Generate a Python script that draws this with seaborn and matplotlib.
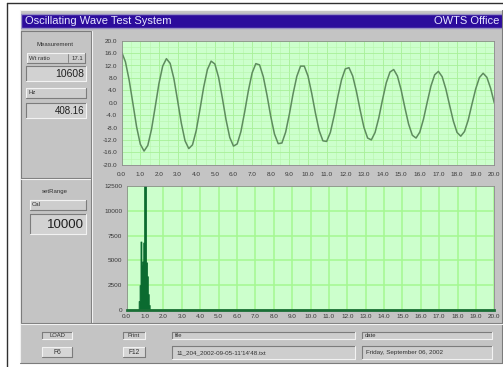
import numpy as np
import pandas as pd
import matplotlib
matplotlib.use("Agg")
import matplotlib.pyplot as plt
from matplotlib.patches import Rectangle
import seaborn as sns

# ---------------- data ----------------
wave_t = np.linspace(0.0, 20.0, 101)
wave_y = [16.3, 13.2, 7.3, -0.2, -7.8, -13.4, -15.6, -13.8, -8.6, -1.3,
          6.2, 11.8, 14.2, 12.7, 7.8, 0.7, -6.6, -12.3, -14.8, -13.6,
          -9.0, -2.2, 5.0, 10.7, 13.4, 12.5, 8.2, 1.6, -5.5, -11.2,
          -14.0, -13.3, -9.3, -3.0, 3.9, 9.6, 12.6, 12.2, 8.4, 2.4,
          -4.4, -10.1, -13.2, -13.0, -9.5, -3.7, 2.9, 8.5, 11.8, 11.8,
          8.6, 3.0, -3.4, -9.0, -12.3, -12.5, -9.6, -4.3, 1.9, 7.4,
          10.9, 11.3, 8.6, 3.6, -2.4, -7.9, -11.4, -12.0, -9.6, -4.9,
          1.0, 6.4, 9.9, 10.7, 8.6, 4.1, -1.6, -6.9, -10.5, -11.4,
          -9.5, -5.3, 0.2, 5.4, 9.0, 10.1, 8.4, 4.4, -0.8, -5.9,
          -9.6, -10.8, -9.3, -5.6, -0.5, 4.4, 8.1, 9.5, 8.2, 4.7, -0.1]

spec_x = [0.675, 0.725, 0.775, 0.825, 0.875, 0.925, 0.975, 1.025, 1.075, 1.125, 1.175, 1.225]
spec_y = [900, 2500, 6900, 4500, 4900, 6800, 13500, 13500, 4800, 3400, 1600, 500]

x_ticks = [i * 1.0 for i in range(21)]
x_labels = ["%.1f" % v for v in x_ticks]
top_yticks = [20, 16, 12, 8, 4, 0, -4, -8, -12, -16, -20]
top_ylabels = ["%.1f" % v for v in top_yticks]
bot_yticks = [0, 2500, 5000, 7500, 10000, 12500]
bot_ylabels = ["0", "2500", "5000", "7500", "10000", "12500"]

title_left = "Oscillating Wave Test System"
title_right = "OWTS Office"
meas_title = "Measurement"
ratio_label, ratio_value = "Wt ratio", "17.1"
count_value = "10608"
freq_label, freq_value = "Hz", "408.16"
range_title = "setRange"
cal_label, cal_value = "Cal", "10000"
load_label, load_key = "LOAD", "F6"
print_label, print_key = "Print", "F12"
file_label, file_value = "file", "11_204_2002-09-05-11'14'48.txt"
date_label, date_value = "date", "Friday, September 06, 2002"

# ---------------- style ----------------
sns.set_style("white")
plt.rcParams['font.family'] = ['Liberation Sans', 'DejaVu Sans']

W, H = 503, 367
fig = plt.figure(figsize=(W / 100, H / 100), dpi=100)
fig.patch.set_facecolor("white")

bg = fig.add_axes([0, 0, 1, 1])
bg.set_xlim(0, W)
bg.set_ylim(H, 0)
bg.axis("off")

GRAY = "#c4c4c4"
DARK = "#7c7c7c"
LIGHT = "#f2f2f2"


def box(x0, y0, x1, y1, face=None, sunken=True, lw=0.8):
    if face is not None:
        bg.add_patch(Rectangle((x0, y0), x1 - x0, y1 - y0, facecolor=face,
                               edgecolor="none", zorder=2))
    c1, c2 = (DARK, LIGHT) if sunken else (LIGHT, DARK)
    bg.plot([x0, x1], [y0, y0], color=c1, lw=lw, zorder=3)
    bg.plot([x0, x0], [y0, y1], color=c1, lw=lw, zorder=3)
    bg.plot([x0, x1], [y1, y1], color=c2, lw=lw, zorder=3)
    bg.plot([x1, x1], [y0, y1], color=c2, lw=lw, zorder=3)


def etched_h(x0, x1, y):
    bg.plot([x0, x1], [y, y], color=DARK, lw=0.8, zorder=3)
    bg.plot([x0, x1], [y + 1, y + 1], color=LIGHT, lw=0.8, zorder=3)


def etched_v(x, y0, y1):
    bg.plot([x, x], [y0, y1], color=DARK, lw=0.8, zorder=3)
    bg.plot([x + 1, x + 1], [y0, y1], color=LIGHT, lw=0.8, zorder=3)


def txt(x, y, s, size=4.5, ha="left", color="#303030", **kw):
    bg.text(x, y, s, fontsize=size, ha=ha, va="center", color=color, zorder=5, **kw)


# outer border lines
bg.plot([7.5, 7.5], [2.5, H], color="#303030", lw=1.0)
bg.plot([7.5, W], [2.5, 2.5], color="#303030", lw=1.0)

# main gray panel
bg.add_patch(Rectangle((20, 10), W - 20, 353, facecolor=GRAY, edgecolor="none", zorder=1))
box(20, 10, W - 0.5, 363, sunken=False)

# title bar
bg.add_patch(Rectangle((21, 14), W - 21, 13.5, facecolor="#2c0c9c",
                       edgecolor="#9890c4", lw=1.0, zorder=2))
txt(25, 21, title_left, size=8, color="#e6e6ff")
txt(499, 21, title_right, size=8, ha="right", color="#e6e6ff")

# left column frames
box(21, 31, 91, 323, sunken=True)
etched_h(21, 91, 178)
etched_v(91.5, 31, 323)
etched_h(21, W, 323)

# measurement group
txt(55, 44, meas_title, size=4.3, ha="center")
box(27, 53, 85, 63, face="#cdcdcd", sunken=False)
txt(29, 58, ratio_label, size=4.3)
bg.plot([68, 68], [54, 62], color=DARK, lw=0.6, zorder=3)
txt(83, 58, ratio_value, size=4.3, ha="right")
box(26, 66, 86, 81, face="#d2d2d2", sunken=True)
txt(84, 73.8, count_value, size=7.5, ha="right", color="#202020")
box(26, 88, 86, 98, face="#cdcdcd", sunken=False)
txt(29, 93, freq_label, size=4.3)
box(26, 103, 86, 118, face="#d2d2d2", sunken=True)
txt(84, 110.8, freq_value, size=7, ha="right", color="#202020")

# range group
txt(55, 191, range_title, size=4.3, ha="center")
box(30, 200, 86, 210, face="#cdcdcd", sunken=False)
txt(32, 205, cal_label, size=4.3)
box(30, 214, 86, 234, face="#d2d2d2", sunken=True)
txt(84, 224.5, cal_value, size=9.5, ha="right", color="#202020")

# bottom row
box(42, 332, 72, 339, face="#cdcdcd", sunken=True)
txt(57, 335.5, load_label, size=4.2, ha="center")
box(42, 347, 72, 357, face="#d6d6d6", sunken=False)
txt(57, 352, load_key, size=4.8, ha="center")
box(123, 332, 145, 339, face="#cdcdcd", sunken=True)
txt(134, 335.5, print_label, size=4.2, ha="center")
box(123, 347, 145, 357, face="#d6d6d6", sunken=False)
txt(134, 352, print_key, size=4.8, ha="center")
box(172, 332, 355, 339, face="#cdcdcd", sunken=True)
txt(175, 335.5, file_label, size=4.2)
box(172, 346, 355, 359, face="#cecece", sunken=True)
txt(176, 352.5, file_value, size=4.5)
box(362, 332, 492, 339, face="#cdcdcd", sunken=True)
txt(365, 335.5, date_label, size=4.2)
box(362, 346, 492, 359, face="#cecece", sunken=True)
txt(366, 352.5, date_value, size=4.5)

PLOT_BG = "#ccffcc"


def px_axes(x0, y0, x1, y1):
    return fig.add_axes([x0 / W, (H - y1) / H, (x1 - x0) / W, (y1 - y0) / H])


def style_axes(ax):
    ax.set_facecolor(PLOT_BG)
    for s in ax.spines.values():
        s.set_color("#8c8c8c")
        s.set_linewidth(0.6)
    ax.tick_params(axis="both", which="major", labelsize=4.6, length=2, width=0.5,
                   color="#505050", labelcolor="#383838", pad=1.2)
    ax.set_xlabel("")
    ax.set_ylabel("")


# ---------------- top chart ----------------
ax1 = px_axes(121.7, 40.7, 494.3, 164.7)
style_axes(ax1)
wave_df = pd.DataFrame({"t": wave_t, "y": wave_y})
ax1.set_xticks(np.arange(0.5, 20, 1.0), minor=True)
ax1.set_yticks(np.arange(-18, 20, 4), minor=True)
ax1.grid(True, which="major", color="#a8f098", lw=0.6)
ax1.grid(True, which="minor", color="#b8f6ac", lw=0.4)
ax1.tick_params(axis="both", which="minor", length=0)
ax1.set_axisbelow(True)
sns.lineplot(data=wave_df, x="t", y="y", ax=ax1, color="#5e8c5e", lw=1.1)
ax1.set_xlim(0, 20)
ax1.set_ylim(-20, 20)
ax1.set_xticks(x_ticks)
ax1.set_xticklabels(x_labels)
ax1.set_yticks(top_yticks)
ax1.set_yticklabels(top_ylabels)
ax1.tick_params(axis="x", pad=3)
ax1.set_xlabel("")
ax1.set_ylabel("")

# ---------------- bottom chart ----------------
ax2 = px_axes(126.7, 186.0, 494.3, 310.0)
style_axes(ax2)
ax2.grid(True, which="major", color="#a4f890", lw=1.1)
ax2.set_axisbelow(True)
sns.histplot(x=spec_x, weights=spec_y, binwidth=0.05, binrange=(0, 20),
             element="step", fill=True, color="#0b6b30", alpha=1.0,
             linewidth=0.6, edgecolor="#0b6b30", ax=ax2)
ax2.set_xlim(0, 20)
ax2.set_ylim(0, 12500)
ax2.set_xticks(x_ticks)
ax2.set_xticklabels(x_labels)
ax2.set_yticks(bot_yticks)
ax2.set_yticklabels(bot_ylabels)
ax2.spines["bottom"].set_color("#1a6e36")
ax2.spines["bottom"].set_linewidth(2.0)
ax2.set_xlabel("")
ax2.set_ylabel("")

fig.savefig("out.png", dpi=100, facecolor="white")
